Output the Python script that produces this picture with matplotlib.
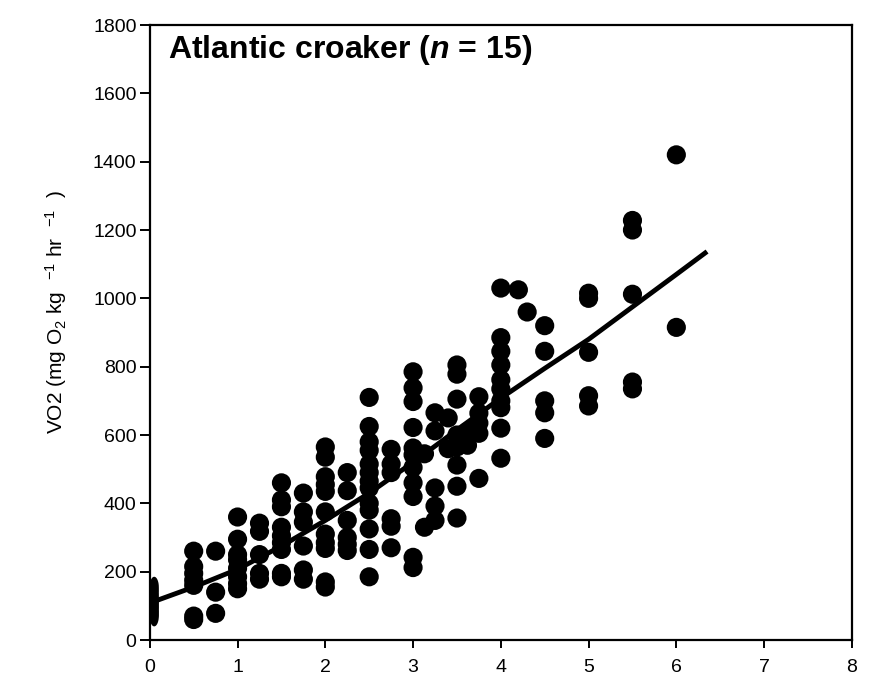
import matplotlib.pyplot as plt
import numpy as np

plt.rcParams['font.family'] = ['Liberation Sans', 'DejaVu Sans']
plt.rcParams['mathtext.fontset'] = 'custom'
plt.rcParams['mathtext.rm'] = 'Liberation Sans'
plt.rcParams['mathtext.it'] = 'Liberation Sans:italic'
plt.rcParams['mathtext.bf'] = 'Liberation Sans:bold'
plt.rcParams['mathtext.bfit'] = 'Liberation Sans:italic:bold'
plt.rcParams['mathtext.default'] = 'regular'

# swim speed (BL/s) and VO2 readings for each speed
speeds = [0.5, 0.75, 1.0, 1.25, 1.5, 1.75, 2.0, 2.25, 2.5, 2.75, 3.0, 3.13,
          3.25, 3.4, 3.5, 3.62, 3.75, 4.0, 4.2, 4.3, 4.5, 5.0, 5.5, 6.0]
vo2 = [
    [260, 215, 195, 175, 160, 70, 60],
    [260, 140, 78],
    [360, 295, 250, 235, 210, 185, 165, 150],
    [342, 318, 250, 195, 178],
    [460, 410, 390, 330, 305, 285, 265, 195, 185],
    [430, 375, 345, 275, 205, 178],
    [565, 535, 478, 455, 435, 375, 310, 285, 268, 170, 155],
    [490, 437, 350, 300, 280, 262],
    [710, 625, 580, 555, 515, 490, 465, 445, 400, 380, 325, 265, 185],
    [558, 515, 490, 355, 333, 270],
    [785, 738, 698, 622, 562, 542, 505, 460, 420, 242, 212],
    [545, 330],
    [665, 612, 445, 392, 350],
    [650, 560],
    [805, 778, 705, 600, 565, 512, 450, 357],
    [610, 570],
    [712, 664, 635, 605, 473],
    [1030, 885, 845, 805, 762, 735, 700, 680, 620, 532],
    [1025],
    [960],
    [920, 845, 700, 665, 590],
    [1015, 1000, 842, 715, 685],
    [1228, 1200, 1012, 755, 735],
    [1420, 915],
]

# resting values at near-zero speed
rest_speed = 0.05
rest_vo2 = [155, 138, 122, 108, 96, 82, 70]

# fitted curve
fit_x = [0.05, 0.5, 1.0, 1.5, 2.0, 2.5, 3.0, 3.5, 4.0, 4.5, 5.0, 5.5, 6.0, 6.35]
fit_y = [113, 155, 207, 275, 350, 430, 520, 615, 708, 795, 880, 975, 1070, 1137]

xs = [s for s, vals in zip(speeds, vo2) for v in vals]
ys = [v for vals in vo2 for v in vals]

fig = plt.figure(figsize=(8.71, 6.87), dpi=100)
ax = fig.add_axes([0.172, 0.0684, 0.806, 0.8952])

ax.scatter(xs, ys, s=190, color='black', edgecolors='none', zorder=3)

t = np.linspace(0, 2 * np.pi, 40)
ell = np.column_stack([0.45 * np.cos(t), np.sin(t)])
ax.scatter([rest_speed] * len(rest_vo2), rest_vo2, s=220, marker=ell,
           color='black', edgecolors='none', zorder=3, clip_on=False)

ax.plot(fit_x, fit_y, color='black', lw=3.5, solid_capstyle='butt', zorder=4)

ax.set_xlim(0, 8)
ax.set_ylim(0, 1800)
ax.set_xticks(range(0, 9))
ax.set_yticks(range(0, 1801, 200))
for sp in ax.spines.values():
    sp.set_linewidth(1.6)
ax.tick_params(axis='x', direction='out', length=6, width=1.4, labelsize=14, pad=8)
ax.tick_params(axis='y', direction='out', length=7, width=1.4, labelsize=14, pad=2.5)

ax.set_ylabel(r'VO2 (mg O$_2$ kg  $^{-1}$ hr  $^{-1}$  )', fontsize=15)
ax.yaxis.set_label_coords(-0.115, 0.533)

ax.text(0.026, 0.987, r'Atlantic croaker ($\mathbfit{n}$ = 15)', transform=ax.transAxes,
        fontsize=23, fontweight='bold', va='top', ha='left')

fig.savefig('out.png', dpi=100)
